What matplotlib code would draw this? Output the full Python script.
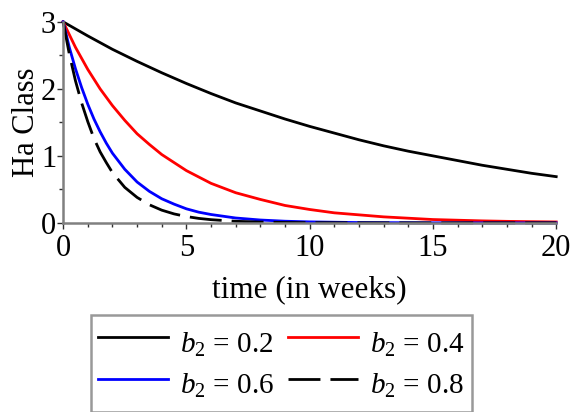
import numpy as np
import matplotlib
matplotlib.use("Agg")
import matplotlib.pyplot as plt
from matplotlib.ticker import MultipleLocator

plt.rcParams['font.family'] = ['Liberation Serif', 'DejaVu Serif']
plt.rcParams['mathtext.fontset'] = 'custom'
plt.rcParams['mathtext.rm'] = 'Liberation Serif'
plt.rcParams['mathtext.it'] = 'Liberation Serif:italic'

# values (time in weeks)
t_slow = [0, 1, 2, 3, 4, 5, 6, 7, 8, 9, 10, 11, 12, 13, 14, 15, 16, 17, 18, 19, 20]
ha_b02 = [3.00, 2.79, 2.59, 2.41, 2.24, 2.08, 1.93, 1.79, 1.67, 1.55, 1.44,
          1.34, 1.24, 1.15, 1.07, 1.00, 0.93, 0.86, 0.80, 0.74, 0.69]

t_mid = [0, 0.5, 1, 1.5, 2, 2.5, 3, 3.5, 4, 5, 6, 7, 8, 9, 10, 11, 12, 13, 14,
         15, 16, 17, 18, 19, 20]
ha_b04 = [3.00, 2.62, 2.29, 2.00, 1.75, 1.53, 1.33, 1.17, 1.02, 0.78, 0.59,
          0.45, 0.35, 0.26, 0.20, 0.15, 0.12, 0.09, 0.07, 0.05, 0.04, 0.03,
          0.023, 0.018, 0.014]

t_fast = [0, 0.25, 0.5, 0.75, 1, 1.25, 1.5, 1.75, 2, 2.5, 3, 3.5, 4, 4.5, 5,
          5.5, 6, 7, 8, 9, 10, 12, 15, 20]
ha_b06 = [3.00, 2.62, 2.30, 2.02, 1.77, 1.55, 1.36, 1.19, 1.04, 0.80, 0.61,
          0.47, 0.36, 0.28, 0.21, 0.16, 0.125, 0.073, 0.043, 0.025, 0.015,
          0.005, 0.001, 0.0]
ha_b08 = [3.00, 2.52, 2.12, 1.79, 1.51, 1.26, 1.06, 0.90, 0.75, 0.53, 0.38,
          0.27, 0.19, 0.134, 0.095, 0.067, 0.048, 0.024, 0.012, 0.006, 0.003,
          0.001, 0.0, 0.0]

labels = [r"$b_2$ = 0.2", r"$b_2$ = 0.4", r"$b_2$ = 0.6", r"$b_2$ = 0.8"]

fig = plt.figure(figsize=(5.74, 4.12), dpi=100)
ax = fig.add_axes([0.110, 0.459, 0.859, 0.488])

lw = 2.0
l1, = ax.plot(t_slow, ha_b02, color='black', lw=lw, label=labels[0], clip_on=False)
l2, = ax.plot(t_mid, ha_b04, color='red', lw=lw, label=labels[1], clip_on=False)
l3, = ax.plot(t_fast, ha_b06, color='blue', lw=lw, label=labels[2], clip_on=False)
l4, = ax.plot(t_fast, ha_b08, color='black', lw=lw, dashes=(11.5, 3.6), label=labels[3], clip_on=False)

ax.set_xlim(0, 20)
ax.set_ylim(0, 3)
ax.xaxis.set_major_locator(MultipleLocator(5))
ax.xaxis.set_minor_locator(MultipleLocator(1))
ax.yaxis.set_major_locator(MultipleLocator(1))
ax.yaxis.set_minor_locator(MultipleLocator(0.5))

for side in ['top', 'right']:
    ax.spines[side].set_visible(False)
for side in ['left', 'bottom']:
    ax.spines[side].set_color('#808080')
    ax.spines[side].set_linewidth(1.8)

ax.tick_params(which='both', direction='out', color='#303030', width=1.0, labelsize=22, pad=1)
ax.tick_params(axis='x', which='both', pad=4)
ax.tick_params(which='major', length=4)
ax.tick_params(which='minor', length=3)

ax.set_xlabel("time (in weeks)", fontsize=22.5, labelpad=9)
ax.set_ylabel("Ha Class", fontsize=22, labelpad=0)

# reference fills the legend row by row
leg = fig.legend([l1, l3, l2, l4], [labels[0], labels[2], labels[1], labels[3]],
                 loc='upper center', bbox_to_anchor=(0.49, 0.235), ncol=2,
                 fontsize=21, frameon=True, fancybox=False, handlelength=2.4,
                 handleheight=1.8, handletextpad=0.4, columnspacing=0.5,
                 labelspacing=0.0, borderpad=0.25, borderaxespad=0)
leg.get_frame().set_edgecolor('#808080')
leg.get_frame().set_linewidth(1.8)

fig.savefig("out.png", dpi=100)
